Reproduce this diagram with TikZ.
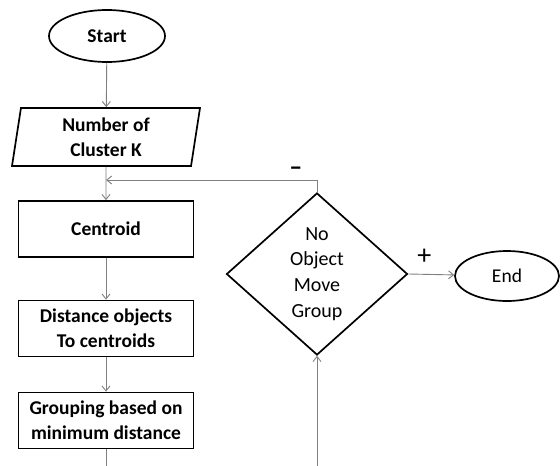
\documentclass[tikz,border=0pt]{standalone}
\usepackage{fontspec}
\setmainfont{Carlito}
\usetikzlibrary{shapes.geometric,arrows.meta}

\begin{document}
\begin{tikzpicture}
[x=1pt,y=-1pt,
  font=\fontsize{19.5}{25}\selectfont,
  terminaldecorate/.style={shape=ellipse,draw,line width=1.7pt,inner sep=0pt},%
  processdecorate/.style={shape=rectangle,draw,line width=1.7pt,align=center,
    minimum width=175pt,minimum height=56pt,inner sep=0pt,font=\fontsize{19.5}{25}\selectfont\bfseries},%
  iodecorate/.style={shape=trapezium,trapezium left angle=77,trapezium right angle=103,
    trapezium stretches body,draw,line width=1.7pt,align=center,
    minimum width=188pt,minimum height=58pt,inner sep=0pt,font=\fontsize{19.5}{25}\selectfont\bfseries},%
  decisiondecorate/.style={shape=diamond,draw,line width=1.7pt,align=center,
    minimum width=181pt,minimum height=162pt,inner sep=0pt,font=\fontsize{20}{25.7}\selectfont},%
  arrowdecorate/.style={-{Straight Barb[length=5pt,width=8pt]},draw=black!50,line width=0.9pt},%
  linedecorate/.style={draw=black!50,line width=0.9pt}]
\useasboundingbox (0,0) rectangle (560,466);
%% nodes or vertices
\node (start) at (107,36) [terminaldecorate,minimum width=116pt,minimum height=52pt,font=\fontsize{19.5}{25}\selectfont\bfseries] {Start};
\node (clusterk) at (106,137) [iodecorate] {Number of\\Cluster K};
\foreach \nodename/\y/\content in {centroid/229/Centroid,
  distance/328.5/Distance objects\\To centroids,
  grouping/420.5/Grouping based on\\minimum distance}
{
  \node (\nodename) at (106,\y) [processdecorate] {\content};
}
\node (decision) at (317,274) [decisiondecorate] {No\\Object\\Move\\Group};
\node (end) at (507,276) [terminaldecorate,minimum width=104pt,minimum height=50pt] {End};
\coordinate (join) at (106,180);
\coordinate (leftexit) at (106,466);
\coordinate (rightentry) at (317,466);
%% edges or lines
\path
\foreach \startnode/\endnode in {start/clusterk, clusterk/centroid,
  centroid/distance, distance/grouping, rightentry/decision}
{
  (\startnode) edge[arrowdecorate] (\endnode)
};
\draw[linedecorate] (grouping) -- (leftexit);
\draw[arrowdecorate] (decision.north) |- node[pos=0.55,above=1pt,font=\fontsize{26}{26}\selectfont\bfseries]{--} (join);
\draw[arrowdecorate] (decision.east) -- node[above=6pt,pos=0.35,font=\fontsize{28}{28}\selectfont]{+} (end);
\end{tikzpicture}
\end{document}
